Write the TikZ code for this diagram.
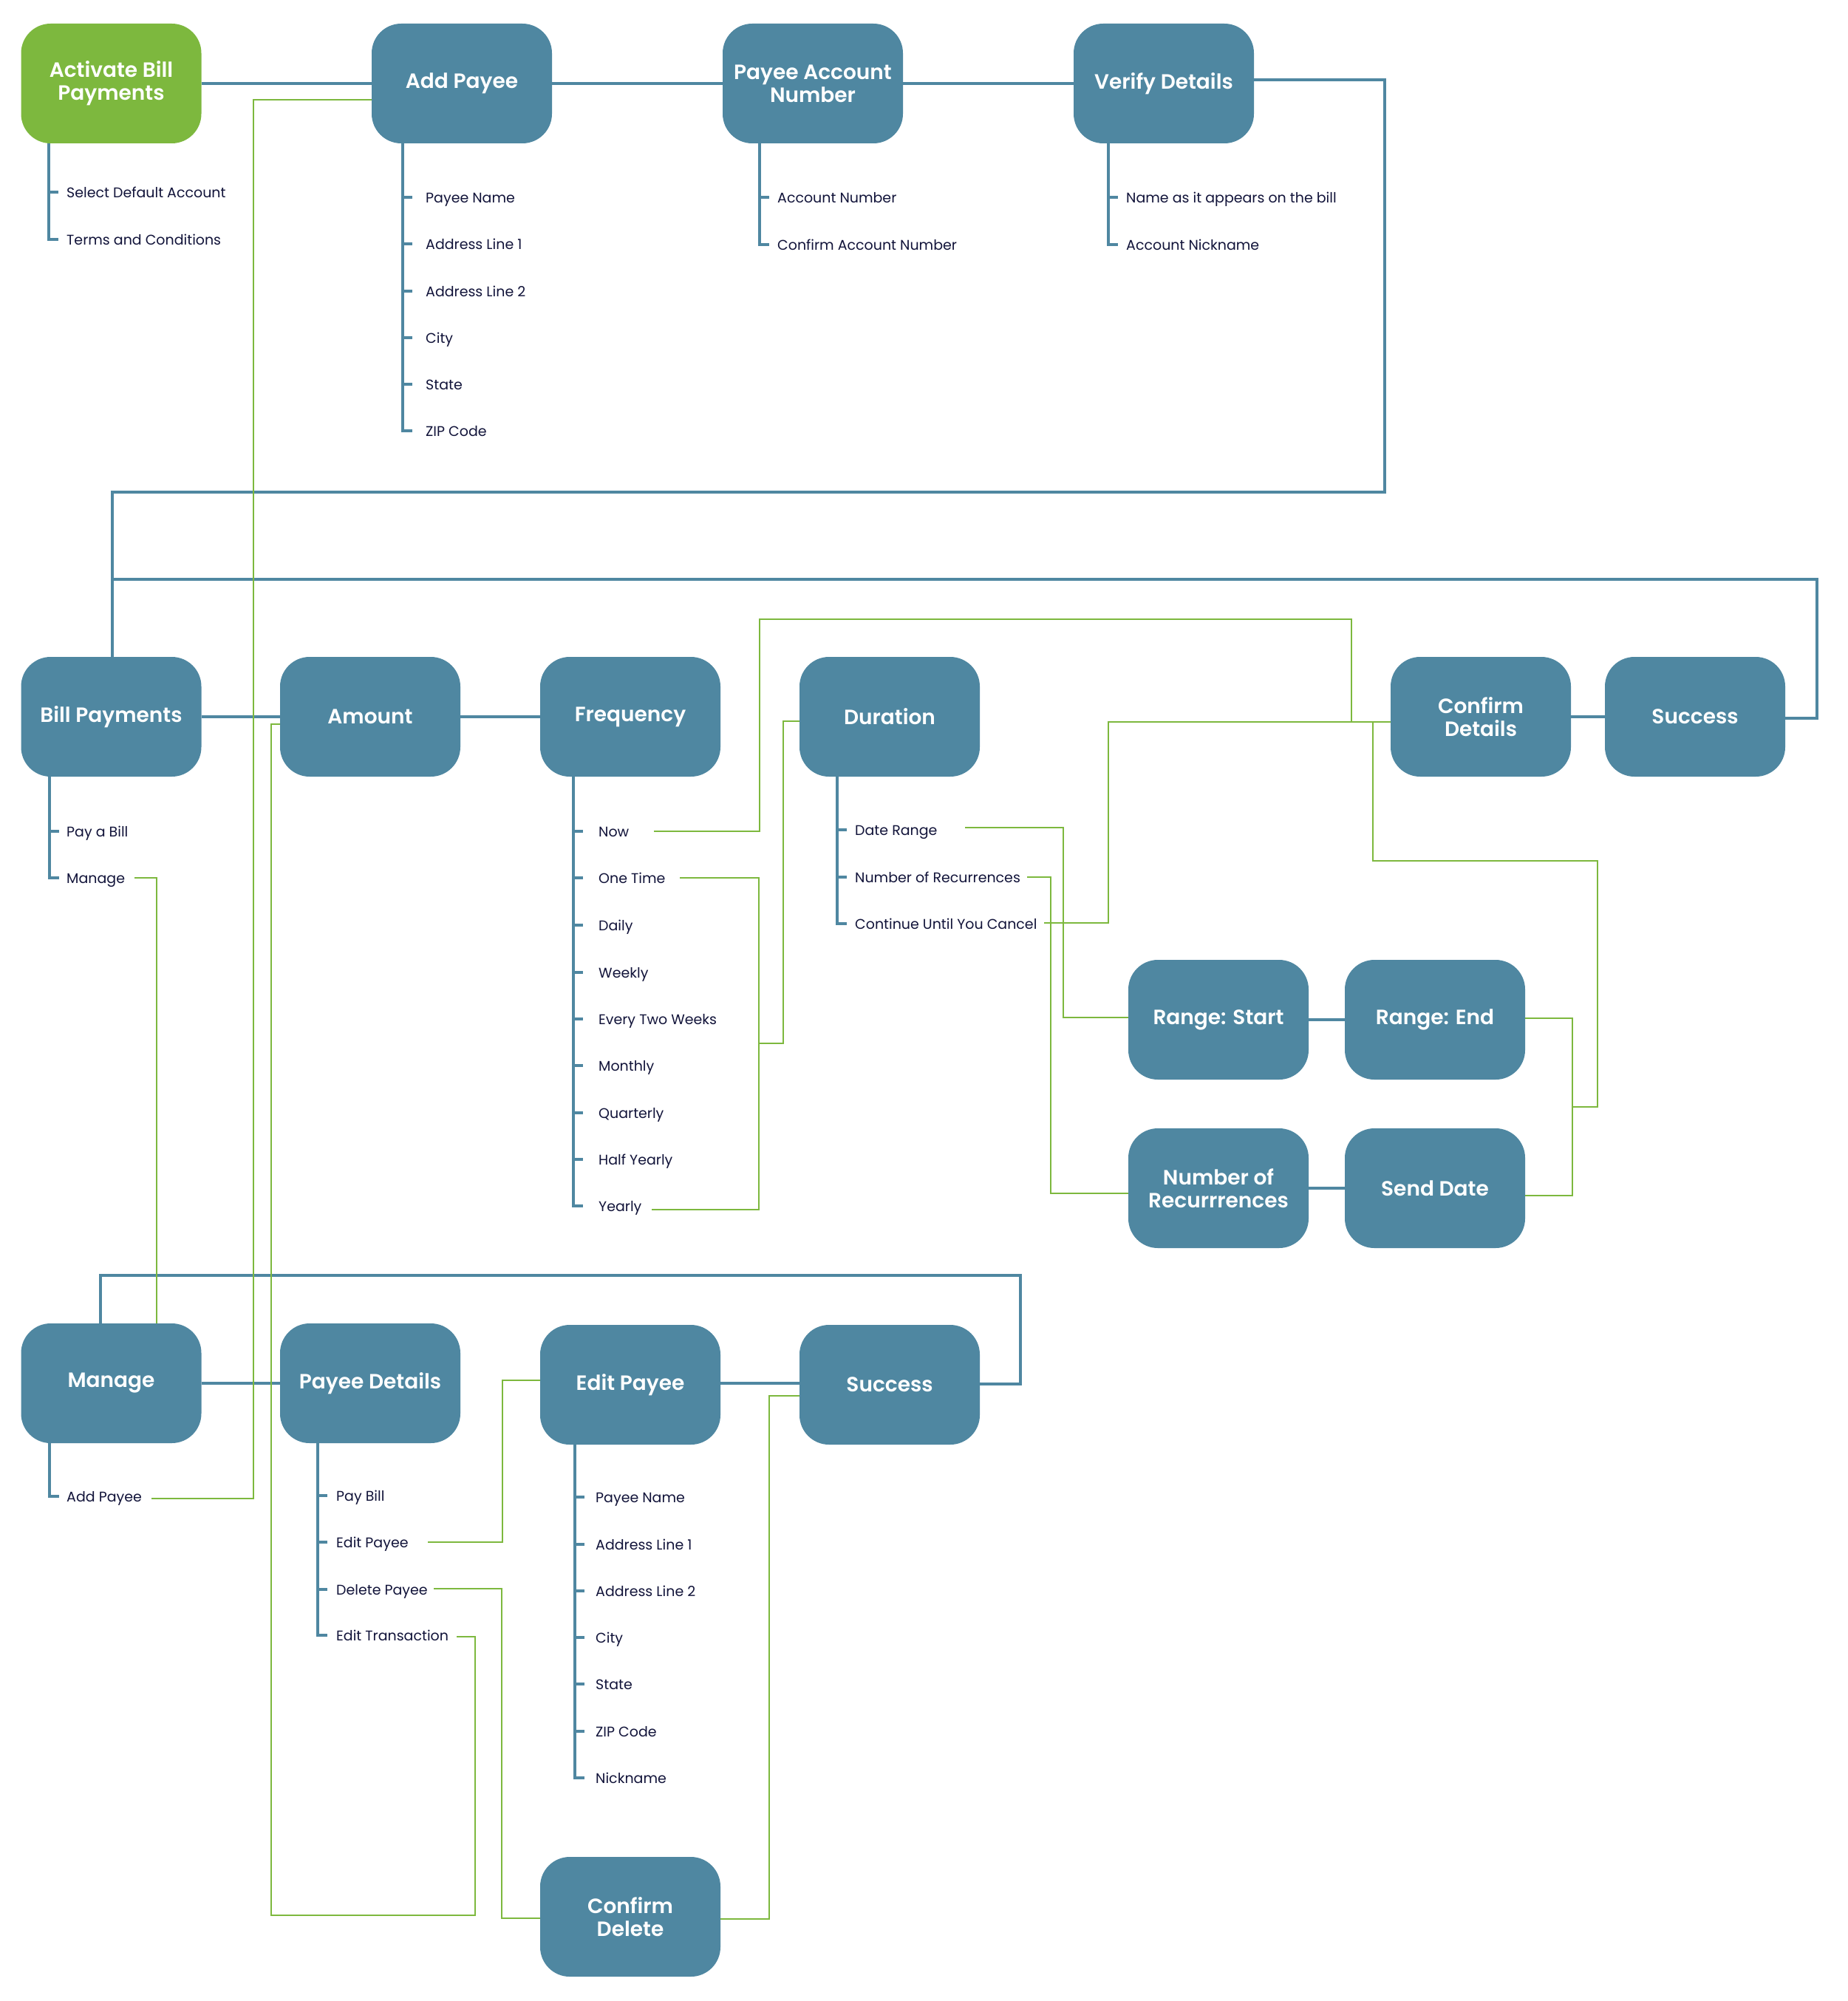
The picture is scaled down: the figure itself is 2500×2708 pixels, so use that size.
\documentclass[tikz,border=0pt]{standalone}
\usepackage{fontspec}
\setmainfont{Poppins}
\IfFontExistsTF{Poppins SemiBold}{\newfontfamily\titlefont{Poppins SemiBold}}{\newfontfamily\titlefont{Poppins}[UprightFont=*-Bold]}
\definecolor{bpblue}{HTML}{4F87A1}
\definecolor{bpgreen}{HTML}{7DB83E}
\definecolor{bptext}{HTML}{12143A}
\tikzset{
  box/.style={rectangle, rounded corners=40pt, fill=bpblue, minimum width=244pt, minimum height=162pt, inner sep=0pt, text=white, align=center, font=\fontsize{28}{31}\selectfont\titlefont},
  startbox/.style={box, fill=bpgreen},
  item/.style={anchor=mid west, inner sep=0pt, yshift=-5pt, text=bptext, font=\fontsize{19}{22}\selectfont},
  tree/.style={draw=bpblue, line width=3.5pt},
  link/.style={draw=bpblue, line width=3.5pt},
  gl/.style={draw=bpgreen, line width=2.5pt},
}
\newcommand\tlist[4]{%
  \foreach \yy/\txt [count=\i] in {#4}{%
    \node[item] (#1-i\i) at (#3,\yy) {\txt};
    \draw[tree] (#2,\yy) -- (#2+13,\yy);
    \xdef\lasty{\yy}}
  \draw[tree] (#1.south -| #2,0) -- (#2,\lasty) -- (#2+13,\lasty);
}
\begin{document}
\begin{tikzpicture}[x=1pt,y=-1pt]
\fill[white] (0,0) rectangle (2500,2708);
\useasboundingbox (0,0) rectangle (2500,2708);

% boxes
\node[startbox] (act) at (150.5,113) {Activate Bill\\Payments};
\node[box] (addp) at (625,113) {Add Payee};
\node[box] (pacc) at (1100,113) {Payee Account\\Number};
\node[box] (ver) at (1575,113) {Verify Details};

\node[box] (bill) at (150.5,970) {Bill Payments};
\node[box] (amt) at (501,970) {Amount};
\node[box] (freq) at (853,970) {Frequency};
\node[box] (dur) at (1204,970) {Duration};
\node[box] (conf) at (2004,970) {Confirm\\Details};
\node[box] (succ) at (2294,970) {Success};

\node[box] (rs) at (1649,1380) {Range: Start};
\node[box] (re) at (1942,1380) {Range: End};
\node[box] (nr) at (1649,1608) {Number of\\Recurrrences};
\node[box] (sd) at (1942,1608) {Send Date};

\node[box] (man) at (150.5,1872) {Manage};
\node[box] (pd) at (501,1872) {Payee Details};
\node[box] (ep) at (853,1874) {Edit Payee};
\node[box] (succ2) at (1204,1874) {Success};

\node[box] (cd) at (853,2594) {Confirm\\Delete};

% item lists
\tlist{act}{66}{90}{260/Select Default Account,324/Terms and Conditions}
\tlist{addp}{545}{576}{267/Payee Name,330/Address Line 1,394/Address Line 2,457/City,520/State,583/ZIP Code}
\tlist{pacc}{1028}{1052}{267/Account Number,331/Confirm Account Number}
\tlist{ver}{1500}{1524}{267/Name as it appears on the bill,331/Account Nickname}
\tlist{bill}{67}{90}{1125/Pay a Bill,1188/Manage}
\tlist{freq}{776}{810}{1125/Now,1188/One Time,1252/Daily,1316/Weekly,1379/Every Two Weeks,1442/Monthly,1506/Quarterly,1569/Half Yearly,1632/Yearly}
\tlist{dur}{1133}{1157}{1123/Date Range,1187/Number of Recurrences,1250/Continue Until You Cancel}
\tlist{man}{67}{90}{2025/Add Payee}
\tlist{pd}{430}{455}{2024/Pay Bill,2087/Edit Payee,2151/Delete Payee,2213/Edit Transaction}
\tlist{ep}{778}{806}{2026/Payee Name,2090/Address Line 1,2153/Address Line 2,2216/City,2279/State,2343/ZIP Code,2406/Nickname}

% blue connectors
\coordinate (jBill) at (152,784);
\draw[link] (act.east) -- (addp.west);
\draw[link] (addp.east) -- (pacc.west);
\draw[link] (pacc.east) -- (ver.west);
\draw[link] (ver.east |- 0,108) -| (1874,666) -| (bill.north -| 152,0);
\draw[link] (succ.east |- 0,972) -| (2459,784) -- (jBill);
\draw[link] (bill.east) -- (amt.west);
\draw[link] (amt.east) -- (freq.west);
\draw[link] (conf.east) -- (succ.west);
\draw[link] (rs.east) -- (re.west);
\draw[link] (nr.east) -- (sd.west);
\draw[link] (man.east) -- (pd.west);
\draw[link] (ep.east |- 0,1872) -- (succ2.west |- 0,1872);
\draw[link] (succ2.east |- 0,1873) -| (1381,1726) -| (man.north -| 136,0);

% green connectors
\coordinate (gAP) at (205,2028);
\coordinate (gMan) at (182,1188);
\coordinate (gET) at (618,2215);
\coordinate (gDP) at (587,2150);
\coordinate (gEP) at (579,2087);
\coordinate (gNow) at (885,1125);
\coordinate (gOT) at (920,1188);
\coordinate (gYr) at (882,1637);
\coordinate (jFreq) at (1027,1412);
\coordinate (gDR) at (1306,1120);
\coordinate (gNR) at (1390,1187);
\coordinate (gCU) at (1413,1249);
\coordinate (jRE) at (2128,1498);

\draw[gl] (gAP) -| (343,135) -- (addp.west |- 0,135);
\draw[gl] (gMan) -| (man.north -| 212,0);
\draw[gl] (gET) -| (643,2592) -| (367,980) -- (amt.west |- 0,980);
\draw[gl] (gDP) -| (679,2596) -- (cd.west |- 0,2596);
\draw[gl] (gEP) -| (680,1868) -- (ep.west |- 0,1868);
\draw[gl] (cd.east |- 0,2597) -| (1041,1889) -- (succ2.west |- 0,1889);
\draw[gl] (gNow) -| (1028,838) -| (1829,977) -- (conf.west |- 0,977);
\draw[gl] (gOT) -| (1027,1637) -- (gYr);
\draw[gl] (jFreq) -| (1060,976) -- (dur.west |- 0,976);
\draw[gl] (gDR) -| (1439,1377) -- (rs.west |- 0,1377);
\draw[gl] (gNR) -| (1422,1615) -- (nr.west |- 0,1615);
\draw[gl] (gCU) -| (1500,977) -- (conf.west |- 0,977);
\draw[gl] (re.east |- 0,1378) -| (2128,1618) -- (sd.east |- 0,1618);
\draw[gl] (jRE) -| (2162,1165) -| (1858,977);
\end{tikzpicture}
\end{document}
